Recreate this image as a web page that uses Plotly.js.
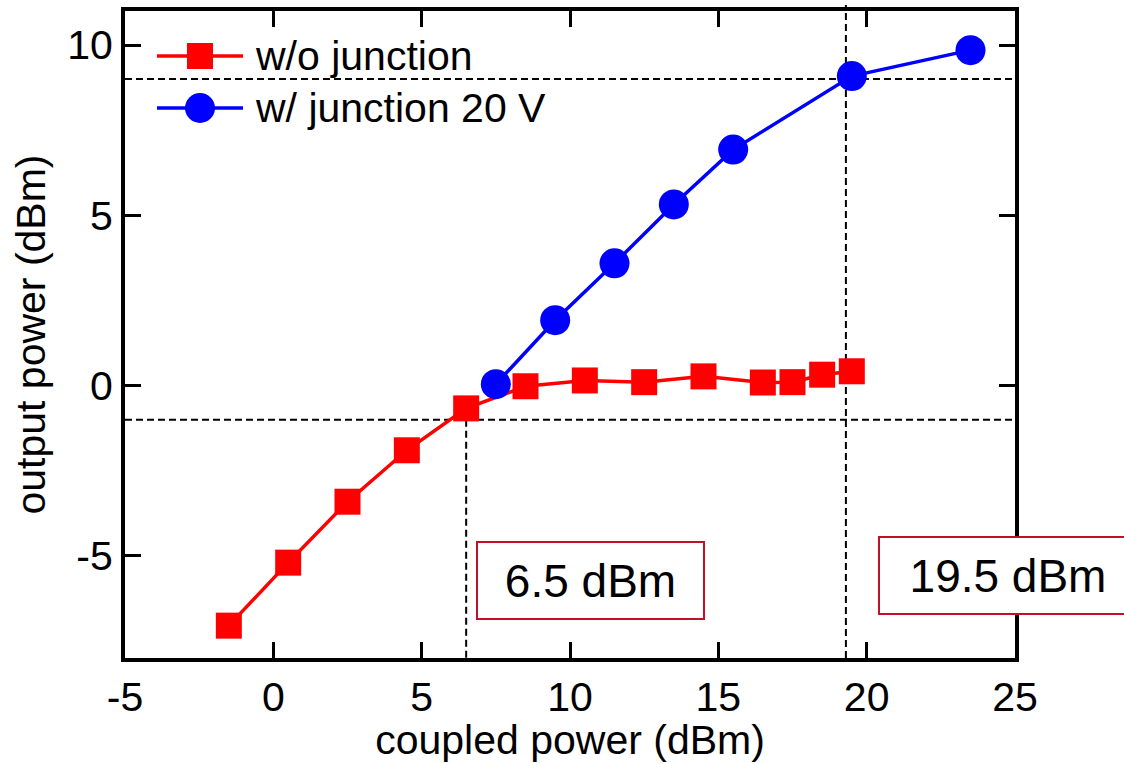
<!DOCTYPE html>
<html>
<head>
<meta charset="utf-8">
<script src="https://cdn.plot.ly/plotly-3.0.1.min.js"></script>
<style>html,body{margin:0;padding:0;background:#fff;}#chart{width:1124px;height:763px;}</style>
</head>
<body>
<div id="chart"></div>
<script>
// ---- data ----
const woX = [-1.5, 0.5, 2.5, 4.5, 6.5, 8.5, 10.5, 12.5, 14.5, 16.5, 17.5, 18.5, 19.5];
const woY = [-7.05, -5.2, -3.41, -1.9, -0.67, -0.02, 0.15, 0.1, 0.27, 0.09, 0.1, 0.32, 0.42];
const wX = [7.5, 9.5, 11.5, 13.5, 15.5, 19.5, 23.5];
const wY = [0.04, 1.92, 3.59, 5.32, 6.93, 9.09, 9.85];
const seriesNames = ["w/o junction", "w/ junction 20 V"];
const xTicks = [-5, 0, 5, 10, 15, 20, 25];
const yTicks = [-5, 0, 5, 10];
const refY = [9, -1];          // horizontal reference levels
const refX = [6.5, 19.3];      // vertical reference markers
const boxLabels = ["6.5 dBm", "19.5 dBm"];

// ---- layout helpers ----
const W = 1124, H = 763;
const M = {l: 125, r: 109, t: 11, b: 105};
const pw = W - M.l - M.r, ph = H - M.t - M.b;
const px = p => (p - M.l) / pw;
const py = p => (H - M.b - p) / ph;
const FONT = "Liberation Sans, Arial, sans-serif";
const RED = "#ff0000", BLUE = "#0000ff", BOXC = "#c0102a";

const traces = [
  {x: woX, y: woY, name: seriesNames[0], type: "scatter", mode: "lines+markers",
   line: {color: RED, width: 3.5}, marker: {symbol: "square", size: 26, color: RED}, showlegend: false},
  {x: wX, y: wY, name: seriesNames[1], type: "scatter", mode: "lines+markers",
   line: {color: BLUE, width: 3.5}, marker: {symbol: "circle", size: 30, color: BLUE}, showlegend: false}
];

const dashLine = {color: "#000", width: 2, dash: "7px,4px"};
const shapes = [
  {type: "line", xref: "paper", yref: "y", x0: 0, x1: 1, y0: refY[0], y1: refY[0], line: dashLine, layer: "below"},
  {type: "line", xref: "paper", yref: "y", x0: 0, x1: 1, y0: refY[1], y1: refY[1], line: dashLine, layer: "below"},
  {type: "line", xref: "x", yref: "y", x0: refX[0], x1: refX[0], y0: refY[1], y1: -8.1, line: dashLine, layer: "below"},
  {type: "line", xref: "x", yref: "paper", x0: refX[1], x1: refX[1], y0: 0, y1: py(5), line: dashLine, layer: "below"},
  // custom legend
  {type: "line", xref: "paper", yref: "paper", x0: px(157), x1: px(243), y0: py(56), y1: py(56), line: {color: RED, width: 3.5}},
  {type: "rect", xref: "paper", yref: "paper", x0: px(187), x1: px(213), y0: py(69), y1: py(43), fillcolor: RED, line: {width: 0}},
  {type: "line", xref: "paper", yref: "paper", x0: px(157), x1: px(243), y0: py(108), y1: py(108), line: {color: BLUE, width: 3.5}},
  {type: "circle", xref: "paper", yref: "paper", x0: px(185), x1: px(215), y0: py(123), y1: py(93), fillcolor: BLUE, line: {width: 0}}
];

const annotations = [
  {xref: "paper", yref: "paper", x: px(253), y: py(56), xanchor: "left", yanchor: "middle",
   text: seriesNames[0], showarrow: false, font: {family: FONT, size: 41, color: "#000"}},
  {xref: "paper", yref: "paper", x: px(253), y: py(108), xanchor: "left", yanchor: "middle",
   text: seriesNames[1], showarrow: false, font: {family: FONT, size: 41, color: "#000"}},
  {xref: "x", yref: "y", x: 10.69, y: -5.72, text: boxLabels[0], showarrow: false,
   font: {family: FONT, size: 46, color: "#000"}, bordercolor: BOXC, borderwidth: 2, borderpad: 10,
   bgcolor: "#fff", width: 205, height: 55},
  {xref: "x", yref: "y", x: 24.75, y: -5.57, text: boxLabels[1], showarrow: false, align: "center",
   font: {family: FONT, size: 46, color: "#000"}, bordercolor: BOXC, borderwidth: 2, borderpad: 10,
   bgcolor: "#fff", width: 236, height: 55}
];

const axisCommon = {
  showgrid: false, zeroline: false, showline: true, linecolor: "#000", linewidth: 4,
  mirror: "ticks", ticks: "inside", ticklen: 16, tickwidth: 3, tickcolor: "#000",
  tickfont: {family: FONT, size: 41, color: "#000"}
};

const layout = {
  width: W, height: H, margin: M, paper_bgcolor: "#fff", plot_bgcolor: "#fff",
  showlegend: false,
  xaxis: Object.assign({}, axisCommon, {range: [-5, 25], tickvals: xTicks, ticktext: xTicks.map(String),
    title: {text: "coupled power (dBm)", font: {family: FONT, size: 41, color: "#000"}, standoff: 8}}),
  yaxis: Object.assign({}, axisCommon, {range: [-8, 11], tickvals: yTicks, ticktext: yTicks.map(String),
    title: {text: "output power (dBm)", font: {family: FONT, size: 41, color: "#000"}, standoff: 10}}),
  shapes: shapes, annotations: annotations
};

Plotly.newPlot("chart", traces, layout, {staticPlot: true, displayModeBar: false});
</script>
</body>
</html>
